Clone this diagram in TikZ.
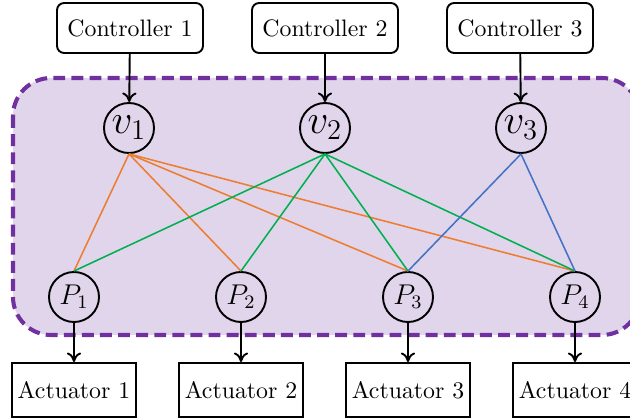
\documentclass[tikz,border=0pt]{standalone}
\usetikzlibrary{arrows.meta}
\definecolor{regfill}{HTML}{E1D5EB}
\definecolor{regdraw}{HTML}{7030A0}
\definecolor{corange}{HTML}{ED7D31}
\definecolor{cgreen}{HTML}{00B050}
\definecolor{cblue}{HTML}{4472C4}
\begin{document}
\begin{tikzpicture}[x=0.42pt,y=-0.42pt,
  ctrlbox/.style={draw,thick,rounded corners=3pt,fill=white,minimum width=146*0.42pt,minimum height=50*0.42pt,inner sep=0pt},
  actbox/.style={draw,thick,fill=white,minimum width=124*0.42pt,minimum height=54*0.42pt,inner sep=0pt},
  vnode/.style={draw,thick,circle,minimum size=50*0.42pt,inner sep=0pt,font=\LARGE},
  pnode/.style={draw,thick,circle,minimum size=50*0.42pt,inner sep=0pt,font=\large},
  arr/.style={thick,-{To[length=4pt,width=6pt]}},
  link/.style={line width=0.65pt}
]
\useasboundingbox (0,0) rectangle (630,419);
\draw[fill=regfill,draw=regdraw,line width=1.7pt,dash pattern=on 5pt off 2.6pt,rounded corners=16pt] (13,78) rectangle (640,335);

\node[ctrlbox] (c1) at (130,28) {Controller 1};
\node[ctrlbox] (c2) at (325,28) {Controller 2};
\node[ctrlbox] (c3) at (520,28) {Controller 3};

\node[vnode] (v1) at (129,128) {$v_1$};
\node[vnode] (v2) at (325,128) {$v_2$};
\node[vnode] (v3) at (521,128) {$v_3$};

\node[pnode] (p1) at (74,297) {$P_1$};
\node[pnode] (p2) at (241,297) {$P_2$};
\node[pnode] (p3) at (408,297) {$P_3$};
\node[pnode] (p4) at (575,297) {$P_4$};

\node[actbox] (a1) at (74,390) {Actuator 1};
\node[actbox] (a2) at (241,390) {Actuator 2};
\node[actbox] (a3) at (408,390) {Actuator 3};
\node[actbox] (a4) at (575,390) {Actuator 4};

\foreach \i in {1,2,3} \draw[arr] (c\i) -- (v\i);
\foreach \i in {1,2,3,4} \draw[arr] (p\i) -- (a\i);

\foreach \j in {1,2,3,4} \draw[link,corange] (v1.south) -- (p\j.north);
\foreach \j in {1,2,3,4} \draw[link,cgreen] (v2.south) -- (p\j.north);
\foreach \j in {3,4} \draw[link,cblue] (v3.south) -- (p\j.north);
\end{tikzpicture}
\end{document}
